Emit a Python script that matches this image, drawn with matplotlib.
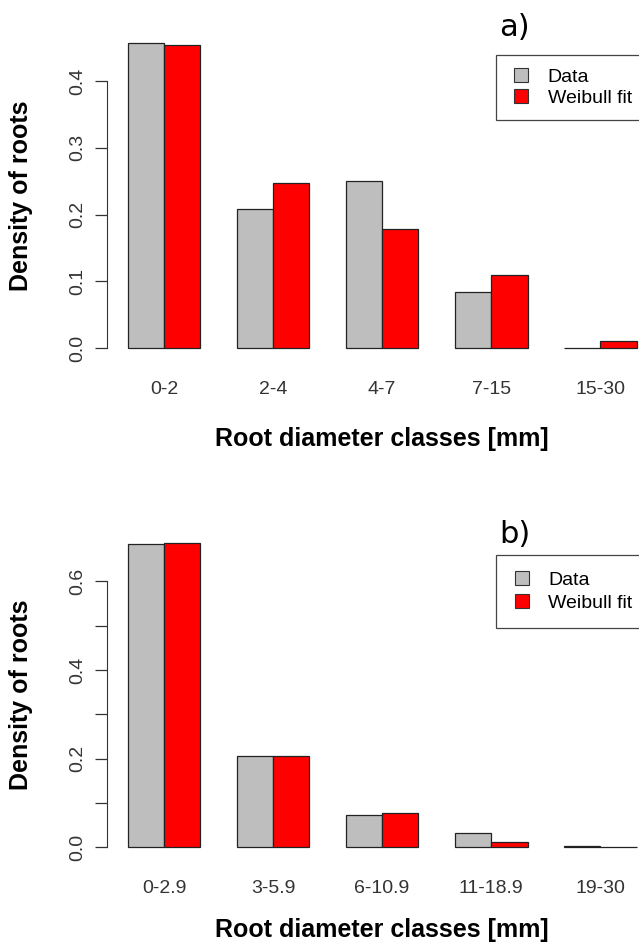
import matplotlib
matplotlib.use("Agg")
import matplotlib.pyplot as plt
from matplotlib.lines import Line2D
import numpy as np

plt.rcParams['font.family'] = ['Liberation Sans', 'DejaVu Sans']

# panel a
classes_a = ["0-2", "2-4", "4-7", "7-15", "15-30"]
data_a = [0.458, 0.208, 0.250, 0.084, 0.0005]
weibull_a = [0.455, 0.248, 0.178, 0.109, 0.0105]

# panel b
classes_b = ["0-2.9", "3-5.9", "6-10.9", "11-18.9", "19-30"]
data_b = [0.685, 0.206, 0.072, 0.033, 0.0035]
weibull_b = [0.687, 0.206, 0.077, 0.012, 0.0005]

GREY = "#BEBEBE"
RED = "#FF0000"
AXC = "#333333"


def bar_panel(ax, classes, data, fit, yticks, ylabels, ymax, tag, tag_y,
              leg_top, xlabpad, bpad, lspace, hlen, htpad):
    n = len(classes)
    starts = 1 + 3 * np.arange(n)
    ax.bar(starts + 0.5, data, width=1.0, color=GREY, edgecolor="#222222",
           linewidth=0.9)
    ax.bar(starts + 1.5, fit, width=1.0, color=RED, edgecolor="#222222",
           linewidth=0.9)

    ax.set_xlim(0.44, 15.56)
    ax.set_ylim(-0.04 * ymax, 1.04 * ymax)

    for s in ["top", "right", "bottom"]:
        ax.spines[s].set_visible(False)
    ax.spines["left"].set_bounds(yticks[0], yticks[-1])
    ax.spines["left"].set_color(AXC)

    ax.set_yticks(yticks)
    ax.set_yticklabels(ylabels, rotation=90, va="center")
    ax.tick_params(axis="y", length=9, width=0.9, color=AXC, pad=6,
                   labelsize=14, labelcolor="#333333")
    ax.set_xticks(starts + 1)
    ax.set_xticklabels(classes)
    ax.tick_params(axis="x", length=0, pad=15, labelsize=14, labelcolor="#333333")

    ax.set_ylabel("Density of roots", fontsize=18, fontweight="bold", labelpad=26)
    ax.set_xlabel("Root diameter classes [mm]", fontsize=18, fontweight="bold",
                  labelpad=xlabpad)

    fig.text(0.781, tag_y, tag, fontsize=22, family="DejaVu Sans", va="center")

    handles = [
        Line2D([], [], linestyle="none", marker="s", markersize=9.5,
               markerfacecolor=GREY, markeredgecolor="#333333", markeredgewidth=0.8),
        Line2D([], [], linestyle="none", marker="s", markersize=9.5,
               markerfacecolor=RED, markeredgecolor="#333333", markeredgewidth=0.8),
    ]
    leg = ax.legend(handles, ["Data", "Weibull fit"], loc="upper left",
                    bbox_to_anchor=(0.776, leg_top),
                    bbox_transform=fig.transFigure, fontsize=14, frameon=True,
                    fancybox=False, edgecolor="#444444", framealpha=1,
                    handlelength=hlen, handletextpad=htpad,
                    borderpad=bpad, labelspacing=lspace, borderaxespad=0)
    leg.get_frame().set_linewidth(0.9)


fig = plt.figure(figsize=(6.39, 9.48), dpi=100)
ax_a = fig.add_axes([0.168, 0.620, 0.860, 0.348])
ax_b = fig.add_axes([0.168, 0.0934, 0.860, 0.3467])

bar_panel(ax_a, classes_a, data_a, weibull_a,
          [0.0, 0.1, 0.2, 0.3, 0.4], ["0.0", "0.1", "0.2", "0.3", "0.4"],
          0.458, "a)", 0.9715, 0.942, 21, 0.7, 0.15, 1.22, 0.75)
bar_panel(ax_b, classes_b, data_b, weibull_b,
          [0.0, 0.1, 0.2, 0.3, 0.4, 0.5, 0.6], ["0.0", "", "0.2", "", "0.4", "", "0.6"],
          0.687, "b)", 0.4366, 0.4146, 15, 0.84, 0.28, 0.98, 0.86)

fig.savefig("out.png", dpi=100)
